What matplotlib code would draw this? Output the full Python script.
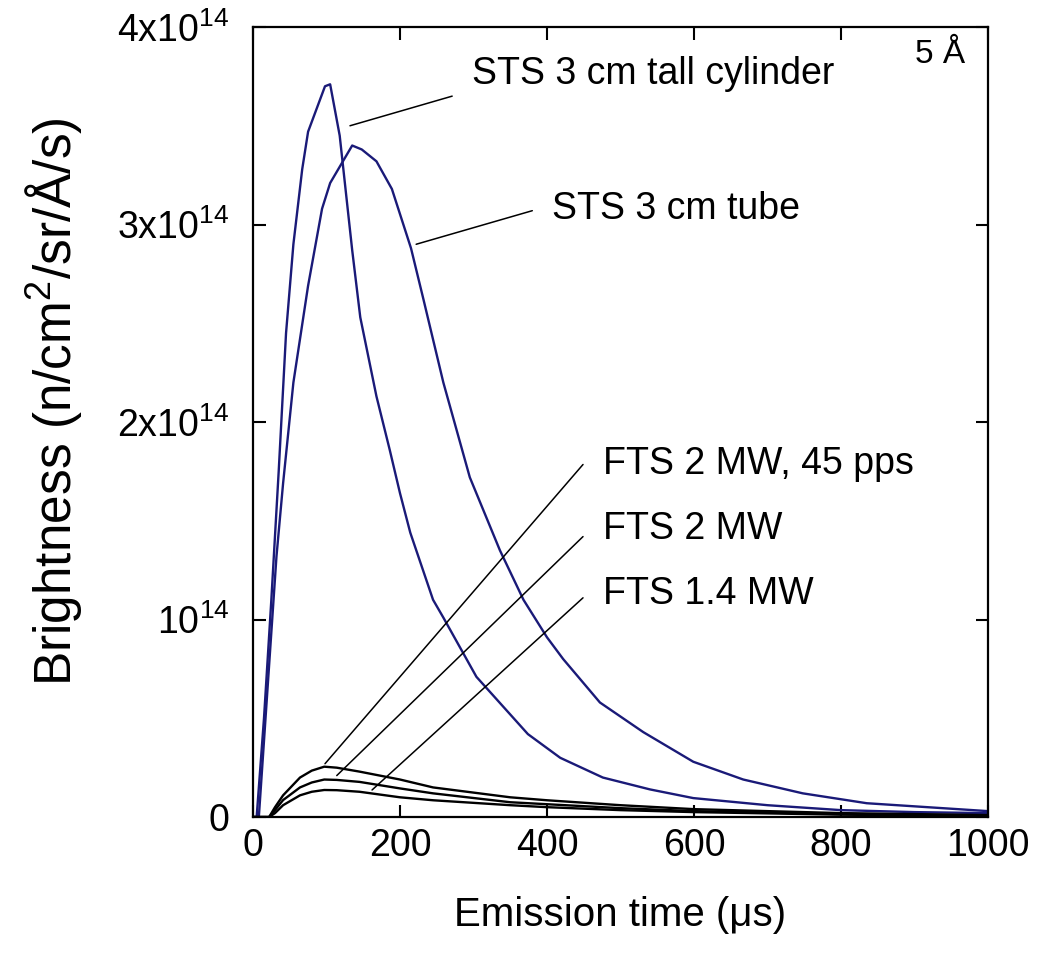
import matplotlib
matplotlib.use("Agg")
import matplotlib.pyplot as plt

# Brightness values are in units of 1e14 n/cm^2/sr/A/s, time in microseconds
cyl_time = [0, 5, 15, 25, 35, 45, 55, 67, 75, 98, 105, 118, 135, 146, 168, 186,
            200, 214, 245, 259, 304, 374, 418, 476, 540, 599, 700, 800, 900, 1000]
cyl_bright = [0, 0, 0.50, 1.10, 1.75, 2.45, 2.90, 3.28, 3.47, 3.70, 3.71, 3.45,
              2.87, 2.53, 2.13, 1.86, 1.64, 1.44, 1.10, 1.01, 0.71, 0.42, 0.30,
              0.20, 0.14, 0.096, 0.06, 0.035, 0.025, 0.02]

tube_time = [0, 8, 20, 32, 41, 55, 75, 94, 105, 135, 148, 168, 189, 215, 232,
             259, 295, 336, 368, 400, 422, 472, 531, 599, 667, 748, 835, 1000]
tube_bright = [0, 0, 0.66, 1.32, 1.69, 2.20, 2.69, 3.08, 3.21, 3.40, 3.38, 3.32,
               3.18, 2.88, 2.62, 2.20, 1.72, 1.35, 1.10, 0.91, 0.80, 0.58, 0.43,
               0.28, 0.19, 0.12, 0.07, 0.03]

fts_time = [0, 22, 30, 41, 64, 80, 97, 114, 145, 200, 245, 350, 400, 500, 600,
            800, 1000]
fts45_bright = [0, 0, 0.05, 0.11, 0.20, 0.235, 0.255, 0.25, 0.23, 0.19, 0.15,
                0.10, 0.085, 0.06, 0.04, 0.02, 0.01]
fts2_bright = [0, 0, 0.035, 0.086, 0.15, 0.175, 0.19, 0.188, 0.178, 0.145,
               0.12, 0.075, 0.065, 0.045, 0.03, 0.015, 0.008]
fts14_bright = [0, 0, 0.02, 0.06, 0.11, 0.128, 0.137, 0.136, 0.128, 0.10,
                0.085, 0.06, 0.05, 0.035, 0.025, 0.012, 0.006]

x_ticks = [0, 200, 400, 600, 800, 1000]
y_ticks = [0, 1, 2, 3, 4]
y_tick_labels = ["0", r"10$^{14}$", r"2x10$^{14}$", r"3x10$^{14}$", r"4x10$^{14}$"]

BLUE = "#1a1a78"
FONT = "Liberation Sans"


def setup_fonts():
    plt.rcParams["font.family"] = [FONT, "DejaVu Sans"]
    plt.rcParams["mathtext.fontset"] = "custom"
    plt.rcParams["mathtext.rm"] = FONT
    plt.rcParams["mathtext.it"] = FONT + ":italic"
    plt.rcParams["mathtext.bf"] = FONT + ":bold"


def draw_curves(ax):
    ax.plot(cyl_time, cyl_bright, color=BLUE, lw=1.7)
    ax.plot(tube_time, tube_bright, color=BLUE, lw=1.7)
    ax.plot(fts_time, fts45_bright, color="black", lw=1.7)
    ax.plot(fts_time, fts2_bright, color="black", lw=1.7)
    ax.plot(fts_time, fts14_bright, color="black", lw=1.7)


def draw_labels(ax):
    arrow = dict(arrowstyle="-", color="black", lw=1.1, shrinkA=0, shrinkB=0)
    notes = [
        ("STS 3 cm tall cylinder", (132, 3.50), (271, 3.65), (298, 3.76)),
        ("STS 3 cm tube", (222, 2.90), (380, 3.07), (407, 3.08)),
        ("FTS 2 MW, 45 pps", (98, 0.27), (449, 1.785), (476, 1.79)),
        ("FTS 2 MW", (114, 0.21), (449, 1.42), (476, 1.46)),
        ("FTS 1.4 MW", (162, 0.137), (449, 1.11), (476, 1.13)),
    ]
    for text, start, end, pos in notes:
        ax.annotate("", xy=start, xytext=end, arrowprops=arrow)
        ax.text(pos[0], pos[1], text, fontsize=27, ha="left", va="center")
    ax.text(0.969, 0.985, "5 Å", transform=ax.transAxes, fontsize=24,
            ha="right", va="top")


def main():
    setup_fonts()
    fig = plt.figure(figsize=(10.44, 9.75), dpi=100)
    ax = fig.add_axes([0.2423, 0.162, 0.7041, 0.8103])

    draw_curves(ax)
    draw_labels(ax)

    ax.set_xlim(0, 1000)
    ax.set_ylim(0, 4)
    ax.set_xticks(x_ticks)
    ax.set_yticks(y_ticks)
    ax.set_yticklabels(y_tick_labels)
    ax.tick_params(direction="in", length=9, width=1.5, top=True, right=True,
                   labelsize=27)
    ax.tick_params(axis="x", pad=8)
    ax.tick_params(axis="y", pad=17)
    for spine in ax.spines.values():
        spine.set_linewidth(1.6)

    ax.set_xlabel("Emission time (μs)", fontsize=29)
    ax.set_ylabel(r"Brightness (n/cm$^2$/sr/Å/s)", fontsize=37)
    ax.xaxis.set_label_coords(0.5, -0.1)
    ax.yaxis.set_label_coords(-0.23, 0.526)

    fig.savefig("out.png", dpi=100)


if __name__ == "__main__":
    main()
